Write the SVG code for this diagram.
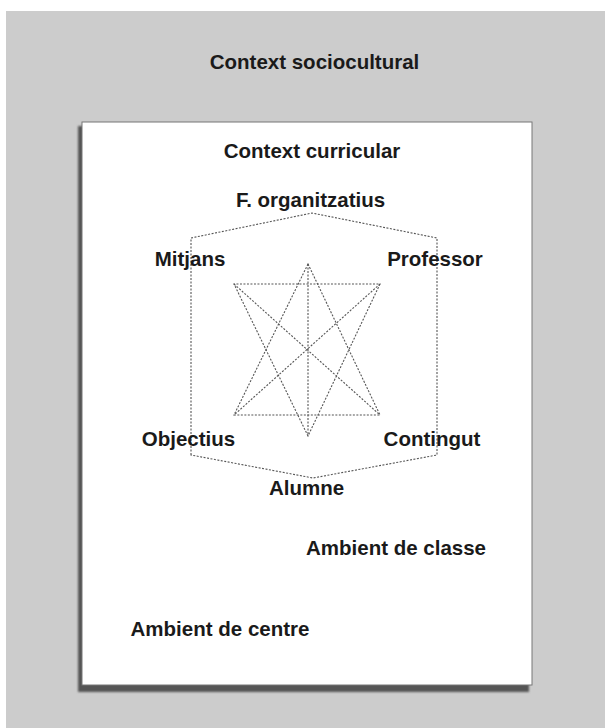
<svg xmlns="http://www.w3.org/2000/svg" width="605" height="728" viewBox="0 0 605 728">
<style>
.lbl{font-family:"Liberation Sans",Arial,sans-serif;font-weight:bold;font-size:20.5px;fill:#1a1a1a;text-anchor:middle}
.dot{fill:none;stroke:#555;stroke-width:1.1;stroke-dasharray:2 1.5}
</style>
<defs>
<filter id="blur" x="-5%" y="-5%" width="110%" height="110%"><feGaussianBlur stdDeviation="1"/></filter>
</defs>
<rect x="0" y="0" width="605" height="728" fill="#ffffff"/>
<rect x="6" y="11" width="599" height="717" fill="#cccccc"/>
<g id="context-sociocultural"><text class="lbl" x="314.5" y="69">Context sociocultural</text></g>
<g id="context-curricular">
<rect x="78" y="126" width="451" height="566" fill="#555" filter="url(#blur)"/>
<rect x="82" y="122" width="450" height="563" fill="#ffffff" stroke="#777" stroke-width="1"/>
<text class="lbl" x="312" y="158">Context curricular</text>
</g>
<g id="connectors">
<path class="dot" d="M191,455 L191,238 L312,213 L437,238 L437,455 L313,478 Z"/>
<path class="dot" d="M308,264 L234,415 L380,415 Z"/>
<path class="dot" d="M308,436 L234,284 L380,284 Z"/>
<line class="dot" x1="234" y1="284" x2="380" y2="415"/>
<line class="dot" x1="380" y1="284" x2="234" y2="415"/>
<line class="dot" x1="308" y1="264" x2="308" y2="436"/>
</g>
<g id="f-organitzatius"><text class="lbl" x="310.5" y="207">F. organitzatius</text></g>
<g id="mitjans"><text class="lbl" x="190" y="266">Mitjans</text></g>
<g id="professor"><text class="lbl" x="435" y="266">Professor</text></g>
<g id="objectius"><text class="lbl" x="188.5" y="446">Objectius</text></g>
<g id="contingut"><text class="lbl" x="432" y="446">Contingut</text></g>
<g id="alumne"><text class="lbl" x="306.5" y="495">Alumne</text></g>
<g id="ambient-classe"><text class="lbl" x="396" y="555">Ambient de classe</text></g>
<g id="ambient-centre"><text class="lbl" x="220" y="636">Ambient de centre</text></g>
</svg>
